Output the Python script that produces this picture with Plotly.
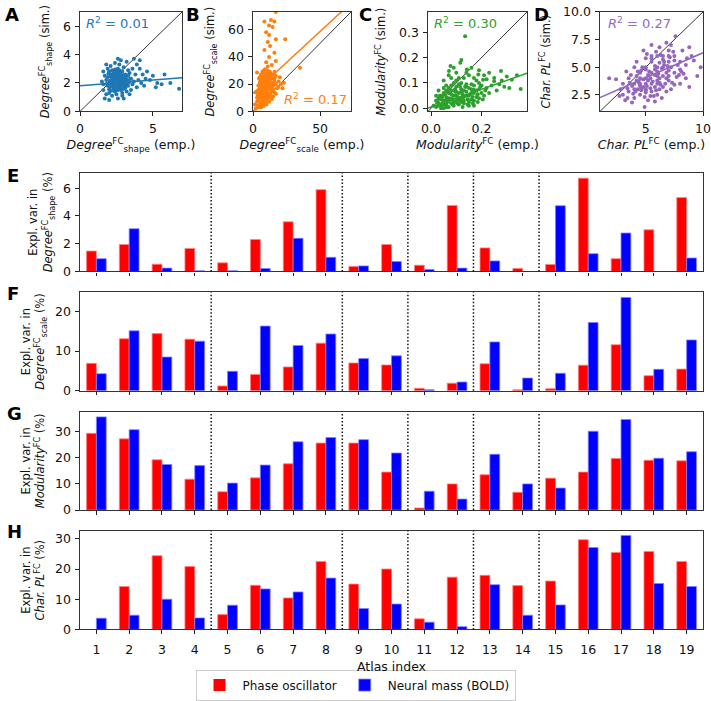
import plotly.graph_objects as go

# ─── Data ────────────────────────────────────────────────────────────
atlas_index = list(range(1, 20))

# explained variance (%) per atlas, phase oscillator vs neural mass
shape_phase = [1.47, 1.94, 0.52, 1.66, 0.62, 2.30, 3.58, 5.90, 0.36, 1.94,
               0.45, 4.76, 1.70, 0.21, 0.50, 6.73, 0.92, 3.00, 5.33]
shape_bold = [0.92, 3.08, 0.24, 0.05, 0.05, 0.21, 2.39, 1.02, 0.40, 0.71,
              0.14, 0.24, 0.76, 0.0, 4.74, 1.28, 2.77, 0.0, 0.97]
scale_phase = [6.9, 13.1, 14.4, 13.0, 1.2, 4.1, 6.0, 12.0, 7.0, 6.5,
               0.6, 1.9, 6.8, 0.25, 0.5, 6.45, 11.6, 3.8, 5.45]
scale_bold = [4.3, 15.1, 8.5, 12.5, 4.9, 16.3, 11.4, 14.3, 8.1, 8.8,
              0.25, 2.2, 12.3, 3.2, 4.4, 17.2, 23.5, 5.4, 12.8]
mod_phase = [29.3, 27.2, 19.2, 11.8, 7.0, 12.3, 17.7, 25.6, 25.6, 14.5,
             0.8, 10.0, 13.5, 6.8, 12.2, 14.5, 19.7, 19.0, 18.8]
mod_bold = [35.6, 30.7, 17.4, 17.0, 10.3, 17.2, 26.1, 27.7, 26.9, 21.8,
            7.2, 4.2, 21.3, 10.0, 8.4, 30.1, 34.6, 19.8, 22.3]
cpl_phase = [0.0, 14.2, 24.4, 20.8, 4.9, 14.6, 10.4, 22.5, 15.0, 20.0,
             3.5, 17.3, 17.9, 14.5, 16.0, 29.7, 25.5, 25.8, 22.5]
cpl_bold = [3.7, 4.7, 10.0, 3.8, 8.0, 13.4, 12.4, 17.0, 6.9, 8.4,
            2.4, 0.9, 14.8, 4.7, 8.1, 27.1, 31.1, 15.2, 14.2]
group_breaks = [4.5, 8.5, 10.5, 12.5, 14.5]

# scatter clouds (emp. vs sim.)
shape_emp = [2.0, 2.2, 2.4, 2.6, 2.8, 3.0, 3.2, 2.5, 2.7, 2.3, 1.8, 1.9, 2.1, 2.9, 3.3, 3.5, 2.6, 2.4, 2.8, 3.1,
             1.7, 1.6, 2.0, 3.6, 3.4, 2.2, 2.7, 3.0, 2.5, 3.2, 2.1, 2.3, 2.5, 2.7, 2.9, 3.1, 2.4, 2.6, 2.8, 2.2,
             1.9, 2.0, 3.3, 3.7, 3.8, 4.0, 4.2, 3.9, 1.5, 1.6, 2.9, 2.6, 2.2, 3.4, 1.8, 2.4, 2.8, 3.2, 2.1, 1.9,
             3.6, 4.3, 4.5, 4.1, 3.5, 1.7, 2.0, 3.0, 2.3, 2.7, 4.8, 5.0, 5.3, 5.6, 4.4, 5.8, 6.2, 6.8, 4.1, 3.9,
             1.6, 3.0, 3.3, 2.5, 2.9, 4.6, 5.2, 3.7, 1.8, 2.6,
             2.05, 2.15, 2.25, 2.35, 2.45, 2.55, 2.65, 2.75, 2.85, 2.95, 3.05, 3.15, 3.25, 2.0, 2.1, 2.2, 2.3, 2.4, 2.5, 2.6,
             2.7, 2.8, 2.9, 3.0, 3.1, 3.2, 3.3, 2.15, 2.35, 2.55, 2.75, 2.95, 3.15, 1.95, 2.45, 2.65, 2.85, 3.35, 1.85, 2.25,
             2.05, 2.5, 2.7, 2.9, 3.05, 2.4, 2.6, 2.8, 2.3, 3.45]
shape_sim = [2.0, 2.3, 1.9, 2.1, 2.4, 2.0, 2.2, 2.6, 1.7, 1.6, 2.2, 1.8, 2.6, 2.8, 1.8, 2.3, 3.0, 1.4, 1.5, 2.6,
             2.5, 1.9, 1.3, 1.9, 2.7, 2.9, 3.3, 3.1, 1.2, 1.4, 2.1, 2.0, 2.3, 2.0, 2.2, 1.9, 2.5, 1.8, 2.7, 1.8,
             2.4, 2.8, 2.5, 2.1, 2.6, 2.2, 2.0, 1.7, 2.1, 1.5, 1.1, 0.9, 1.1, 1.2, 1.2, 3.4, 3.6, 3.5, 3.2, 3.0,
             3.0, 2.6, 2.3, 3.0, 1.5, 0.9, 0.8, 0.9, 2.2, 2.5, 2.2, 2.5, 2.0, 1.9, 1.8, 2.6, 2.0, 1.6, 3.6, 3.3,
             2.8, 1.6, 2.9, 2.8, 1.3, 2.8, 1.7, 3.7, 3.3, 3.7,
             2.15, 1.95, 2.45, 1.75, 2.05, 2.35, 1.65, 2.25, 1.85, 2.55, 2.15, 1.75, 2.05, 1.55, 2.45, 2.05, 2.65, 1.85, 2.15, 2.45,
             1.85, 2.15, 2.45, 2.25, 1.65, 2.55, 2.15, 1.45, 2.75, 1.55, 2.85, 1.75, 2.35, 2.65, 2.2, 2.75, 1.95, 2.05, 1.95, 2.4,
             1.7, 1.6, 2.9, 1.6, 2.4, 2.95, 1.5, 2.0, 2.75, 2.3]

scale_emp = [4, 5, 6, 7, 8, 9, 10, 11, 12, 13, 6, 7, 8, 9, 10, 11, 12, 13, 14, 15,
             5, 6, 7, 8, 9, 10, 11, 12, 13, 14, 3, 4, 3, 4, 5, 5, 6, 7, 9, 11,
             16, 17, 18, 16, 15, 14, 12, 10, 8, 6, 2, 3, 4, 4, 5, 8, 9, 10, 11, 7,
             7, 8, 6, 9, 10, 12, 13, 14, 15, 16, 17, 19, 20, 19, 22, 21, 23, 3, 2, 1.5,
             17, 8.5, 13.4, 15.9, 12, 14.6, 9.8, 12, 17, 11, 24, 12.7, 8.5, 15.9, 12, 17, 9.8, 35, 14, 11,
             5, 6, 7, 8, 9, 10, 11, 12, 13, 14, 5.5, 6.5, 7.5, 8.5, 9.5, 10.5, 11.5, 12.5, 13.5, 14.5,
             6, 7, 8, 9, 10, 11, 12, 13, 6.5, 7.5, 8.5, 9.5, 10.5, 11.5, 12.5, 4.5, 5.5, 15, 16, 17,
             3.5, 4.5, 6, 8, 10, 12, 14, 9, 11, 7]
scale_sim = [8, 12, 15, 10, 18, 14, 20, 16, 22, 18, 22, 25, 27, 24, 28, 25, 26, 24, 21, 19,
             5, 7, 5, 9, 8, 11, 10, 13, 12, 15, 4, 3, 7, 11, 17, 21, 26, 29, 31, 30,
             24, 20, 17, 14, 11, 9, 7, 5, 4, 3, 2, 10, 15, 19, 25, 22, 19, 16, 13, 14,
             19, 12, 11, 11, 23, 19, 28, 26, 27, 29, 26, 22, 25, 18, 17, 20, 21, 28.5, 14, 5,
             73, 66, 67, 66, 63, 62, 58, 56, 53, 51, 53, 48, 45, 43, 40, 37, 36, 32, 34, 33,
             10, 13, 16, 20, 23, 26, 21, 17, 14, 11, 19, 21, 23, 15, 17, 19, 22, 24, 16, 18,
             27, 9, 12, 6, 14, 8, 10, 20, 17, 20, 25, 12, 9, 18, 29, 13, 23, 16, 22, 13,
             12, 24, 19, 30, 8, 28, 24, 27, 25, 7]

mod_emp = [0.02, 0.03, 0.04, 0.05, 0.06, 0.07, 0.08, 0.09, 0.10, 0.11, 0.12, 0.13, 0.14, 0.15, 0.16, 0.17, 0.18, 0.19, 0.20, 0.22,
           0.03, 0.04, 0.05, 0.06, 0.07, 0.08, 0.09, 0.10, 0.11, 0.12, 0.05, 0.07, 0.09, 0.11, 0.13, 0.15, 0.17, 0.19, 0.21, 0.23,
           0.01, 0.02, 0.04, 0.06, 0.08, 0.10, 0.12, 0.14, 0.16, 0.18, 0.06, 0.08, 0.10, 0.05, 0.07, 0.13, 0.15, 0.17, 0.20, 0.24,
           0.26, 0.28, 0.25, 0.22, 0.27, 0.29, 0.21, 0.19, 0.16, 0.14, 0.135, 0.277, 0.32, 0.355, 0.31, 0.25, 0.206, 0.187, 0.142, 0.077,
           0.116, 0.071, 0.168, 0.34, 0.30, 0.23, 0.12, 0.09, 0.03, 0.02, 0.045, 0.065, 0.085, 0.105, 0.125, 0.145, 0.165, 0.185, 0.115, 0.095,
           0.03, 0.05, 0.07, 0.09, 0.11, 0.13, 0.15, 0.17, 0.19, 0.04, 0.06, 0.08, 0.10, 0.12, 0.14, 0.16, 0.18, 0.035, 0.055, 0.075,
           0.095, 0.115, 0.135, 0.155, 0.175, 0.195, 0.215, 0.025, 0.045, 0.065, 0.085, 0.105, 0.125, 0.145, 0.165, 0.185, 0.205, 0.06, 0.1, 0.14,
           0.08, 0.12, 0.16, 0.11, 0.09, 0.13, 0.07, 0.15, 0.05, 0.17]
mod_sim = [0.005, 0.02, 0.01, 0.03, 0.015, 0.04, 0.02, 0.05, 0.03, 0.06, 0.04, 0.07, 0.05, 0.08, 0.06, 0.09, 0.07, 0.10, 0.06, 0.08,
           0.04, 0.05, 0.06, 0.07, 0.08, 0.09, 0.10, 0.11, 0.12, 0.10, 0.0, 0.005, 0.01, 0.015, 0.02, 0.025, 0.03, 0.04, 0.05, 0.06,
           0.01, 0.03, 0.035, 0.045, 0.055, 0.065, 0.075, 0.085, 0.095, 0.11, 0.09, 0.12, 0.14, 0.11, 0.13, 0.12, 0.13, 0.12, 0.09, 0.09,
           0.07, 0.11, 0.12, 0.115, 0.095, 0.085, 0.13, 0.15, 0.16, 0.14, 0.284, 0.147, 0.113, 0.076, 0.08, 0.107, 0.113, 0.133, 0.153, 0.167,
           0.18, 0.147, 0.073, 0.13, 0.125, 0.14, 0.19, 0.16, 0.07, 0.05, 0.02, 0.025, 0.035, 0.045, 0.055, 0.035, 0.045, 0.055, 0.085, 0.075,
           0.01, 0.015, 0.03, 0.02, 0.035, 0.045, 0.05, 0.06, 0.075, 0.0, 0.005, 0.04, 0.05, 0.025, 0.065, 0.075, 0.045, 0.05, 0.055, 0.06,
           0.065, 0.03, 0.085, 0.055, 0.07, 0.085, 0.07, 0.025, 0.045, 0.005, 0.015, 0.02, 0.005, 0.015, 0.02, 0.025, 0.035, 0.035, 0.085, 0.095,
           0.07, 0.065, 0.035, 0.095, 0.025, 0.03, 0.06, 0.01, 0.08, 0.01]

cpl_emp = [5, 5.5, 6, 4.5, 4, 6.5, 7, 3.5, 5, 6, 4.5, 5.5, 6.5, 7, 7.5, 8, 3, 3.5, 4, 5,
           4, 4.5, 5.5, 6, 6.5, 7, 7.5, 8, 8.5, 9, 3, 3.2, 3.8, 4.9, 5.2, 5.8, 6.8, 7.2, 8, 8.5,
           2.4, 1.8, 2.8, 3.3, 4.2, 4.8, 5.5, 6.2, 6.8, 7.6, 7.2, 8.2, 8.8, 9.2, 9.8, 9.5, 8.8, 6, 5, 6,
           4.5, 5, 5.5, 6.2, 6.8, 7.2, 4.2, 3.8, 5.8, 6.5, 4.8, 5.2, 5.8, 6.2, 7, 7.8, 4.3, 3.6, 2.7, 3.4,
           4.6, 5.4, 6.4, 7.5, 8.3, 5.1, 5.9, 6.6, 7.4, 8.6,
           4.4, 4.8, 5.2, 5.6, 6.0, 6.4, 6.8, 4.6, 5.0, 5.4, 5.8, 6.2, 6.6, 7.0, 4.2, 4.6, 5.0, 5.4, 5.8, 6.2,
           3.9, 4.3, 4.7, 5.1, 5.5, 5.9, 6.3, 6.7, 7.1, 7.5, 4.0, 4.5, 5.3, 6.1, 6.9, 7.7, 3.7, 4.9, 5.7, 6.5,
           7.3, 8.1, 3.4, 4.1, 5.0, 6.0, 7.0, 7.9, 5.5, 6.3]
cpl_sim = [4, 4.5, 4.2, 3.5, 3, 5, 5.5, 2.8, 3, 3.5, 4.5, 5.5, 6, 6.5, 6, 5.5, 3.5, 4, 5, 5.8,
           2.2, 2.5, 2.8, 2.5, 3.2, 3.8, 4.5, 4.8, 5.2, 6, 2.5, 2, 1.8, 1.4, 2, 1.9, 2.8, 3, 3.5, 4,
           3.9, 4, 3, 4.6, 5.5, 6.5, 7, 6.8, 7.2, 7.8, 7, 6.5, 6.8, 5.6, 5, 4.2, 3.2, 6, 5, 5,
           4, 4.8, 3.5, 4, 4.5, 5, 3.8, 3.3, 4.8, 4.2, 3.2, 3.8, 3.2, 3, 4.2, 5.2, 4.6, 3.6, 2.4, 2.2,
           2.9, 2.4, 2.2, 3.4, 4.4, 6.2, 6.4, 5.5, 6.4, 5.8,
           3.6, 3.9, 4.3, 3.7, 4.6, 4.9, 4.0, 3.1, 3.5, 4.0, 4.3, 3.6, 5.2, 4.7, 4.2, 4.7, 2.7, 3.1, 5.1, 5.4,
           2.6, 3.0, 5.0, 3.3, 5.8, 2.9, 3.4, 3.5, 5.9, 5.6, 3.5, 3.3, 4.6, 4.4, 5.1, 4.1, 4.3, 2.3, 2.4, 5.7,
           3.6, 4.6, 3.1, 2.8, 2.9, 3.8, 6.0, 4.3, 6.0, 6.1]

# linear fits (intercept, slope) and R² as printed
fit_intercept = [1.8, 13.2, 0.005, 1.8]
fit_slope = [0.08, 0.91, 0.35, 0.45]
r_squared = [0.01, 0.17, 0.30, 0.27]

# ─── Style ───────────────────────────────────────────────────────────
W, H = 711, 701
FONT = "DejaVu Sans"
RED, BLUE = "#ff0000", "#0000ff"
SCATTER_COLORS = ["#1f77b4", "#ff7f0e", "#2ca02c", "#9467bd"]


def xd(a, b):
    return [a / W, b / W]


def yd(top, bottom):
    return [1 - bottom / H, 1 - top / H]


def axis(**kw):
    base = dict(showgrid=False, zeroline=False, showline=True, mirror=True,
                linecolor="#333", linewidth=1.2, ticks="outside", ticklen=3.5,
                tickwidth=1, tickcolor="#222", automargin=False, ticklabelstandoff=2,
                tickfont=dict(family=FONT, size=12.5, color="#111"),
                title_font=dict(family=FONT, size=12.5, color="#111"))
    base.update(kw)
    return base


fig = go.Figure()
layout = {}

# ─── Scatter panels A–D ──────────────────────────────────────────────
scatter_sets = [
    (shape_emp, shape_sim, [0, 7], [0, 5], [0, 2, 4, 6], None,
     "<i>Degree</i><sup>FC</sup><sub>shape</sub>", xd(80, 182)),
    (scale_emp, scale_sim, [0, 73], [0, 50], [0, 20, 40, 60], None,
     "<i>Degree</i><sup>FC</sup><sub>scale</sub>", xd(253, 351)),
    (mod_emp, mod_sim, [-0.012, 0.38], [0, 0.2], [0, 0.1, 0.2, 0.3], ".1f",
     "<i>Modularity</i><sup>FC</sup>", xd(428, 527)),
    (cpl_emp, cpl_sim, [1, 10], [5, 10], [2.5, 5, 7.5, 10], ".1f",
     "<i>Char. PL</i><sup>FC</sup>", xd(600, 703)),
]

for i, (ex, sim, rng, xt, yt, yfmt, name, dom) in enumerate(scatter_sets):
    n = i + 1
    xa, ya = f"x{n}", f"y{n}"
    col = SCATTER_COLORS[i]
    fig.add_trace(go.Scatter(x=rng, y=rng, mode="lines",
                             line=dict(color="black", width=0.8),
                             xaxis=xa, yaxis=ya, showlegend=False, hoverinfo="skip"))
    fig.add_trace(go.Scatter(x=ex, y=sim, mode="markers",
                             marker=dict(color=col, size=4, line_width=0),
                             xaxis=xa, yaxis=ya, showlegend=False))
    fig.add_trace(go.Scatter(x=rng, y=[fit_intercept[i] + fit_slope[i] * v for v in rng],
                             mode="lines", line=dict(color=col, width=1.5),
                             xaxis=xa, yaxis=ya, showlegend=False, hoverinfo="skip"))
    layout[f"xaxis{n}"] = axis(domain=dom, range=rng, tickvals=xt,
                               tickformat=".1f" if i == 2 else None,
                               anchor=ya, title=dict(text=name + " (emp.)", standoff=2))
    layout[f"yaxis{n}"] = axis(domain=yd(12, 112), range=rng, tickvals=yt, tickformat=yfmt,
                               anchor=xa, title=dict(text=name + " (sim.)", standoff=10,
                                                     font=dict(family=FONT, size=11.5, color="#111")))

# ─── Bar panels E–H ──────────────────────────────────────────────────
bar_sets = [
    (shape_phase, shape_bold, [0, 7.1], [0, 2, 4, 6],
     "Expl. var. in<br><i>Degree</i><sup>FC</sup><sub>shape</sub> (%)", yd(174, 273)),
    (scale_phase, scale_bold, [0, 24.8], [0, 10, 20],
     "Expl. var. in<br><i>Degree</i><sup>FC</sup><sub>scale</sub> (%)", yd(294, 393)),
    (mod_phase, mod_bold, [0, 37.6], [0, 10, 20, 30],
     "Expl. var. in<br><i>Modularity</i><sup>FC</sup> (%)", yd(414, 513)),
    (cpl_phase, cpl_bold, [0, 32.6], [0, 10, 20, 30],
     "Expl. var. in<br><i>Char. PL</i><sup>FC</sup> (%)", yd(534, 633)),
]

shapes = []
for j, (ph, bo, yr, yt, title, dom) in enumerate(bar_sets):
    n = j + 5
    xa, ya = f"x{n}", f"y{n}"
    last = j == 3
    fig.add_trace(go.Bar(x=atlas_index, y=ph, name="Phase oscillator",
                         marker=dict(color=RED, line=dict(color="#ff8080",
                                                          width=[0.8 if v > 0 else 0 for v in ph])),
                         xaxis=xa, yaxis=ya, offsetgroup="p", showlegend=last))
    fig.add_trace(go.Bar(x=atlas_index, y=bo, name="Neural mass (BOLD)",
                         marker=dict(color=BLUE, line=dict(color="#8080ff",
                                                           width=[0.8 if v > 0 else 0 for v in bo])),
                         xaxis=xa, yaxis=ya, offsetgroup="b", showlegend=last))
    layout[f"xaxis{n}"] = axis(domain=xd(80, 703), range=[0.5, 19.5], tickvals=atlas_index,
                               showticklabels=last, anchor=ya, ticklabelstandoff=5,
                               title=dict(text="Atlas index" if last else "", standoff=6))
    layout[f"yaxis{n}"] = axis(domain=dom, range=yr, tickvals=yt, anchor=xa,
                               title=dict(text=title, standoff=7,
                                          font=dict(family=FONT, size=11.5, color="#111")))
    for b in group_breaks:
        shapes.append(dict(type="line", xref=xa, yref=f"{ya} domain", x0=b, x1=b, y0=0, y1=1,
                           line=dict(color="#111", width=1.5, dash="1.5px,2px")))

# ─── Annotations ─────────────────────────────────────────────────────
annotations = []
for letter, px, py in [("A", 3, 2), ("B", 184, 2), ("C", 357, 2), ("D", 532, 2),
                       ("E", 5, 164), ("F", 5, 283), ("G", 5, 403), ("H", 5, 522)]:
    annotations.append(dict(text=f"<b>{letter}</b>", x=px / W, y=1 - py / H, xref="paper",
                            yref="paper", xanchor="left", yanchor="top", showarrow=False,
                            font=dict(family=FONT, size=18, color="black")))

r2_pos = [(84, 13, "left", "top"), (349, 110, "right", "bottom"),
          (432, 13, "left", "top"), (606, 13, "left", "top")]
for i, (px, py, xan, yan) in enumerate(r2_pos):
    annotations.append(dict(text=f"<i>R</i><sup>2</sup> = {r_squared[i]:.2f}",
                            x=px / W, y=1 - py / H, xref="paper", yref="paper",
                            xanchor=xan, yanchor=yan, showarrow=False,
                            font=dict(family=FONT, size=13, color=SCATTER_COLORS[i])))

fig.update_layout(
    width=W, height=H, autosize=False,
    margin=dict(l=0, r=0, t=0, b=0),
    paper_bgcolor="white", plot_bgcolor="white",
    font=dict(family=FONT, size=12, color="#111"),
    barmode="group", bargap=0.4, bargroupgap=0,
    shapes=shapes, annotations=annotations,
    legend=dict(orientation="h", x=0.5, xanchor="center", y=1 - 689 / H, yanchor="middle",
                font=dict(family=FONT, size=12, color="#111"),
                bordercolor="#ccc", borderwidth=1, bgcolor="white",
                itemwidth=36, tracegroupgap=0),
    **layout,
)

# page body has a default margin; drop it so the figure sits at the window origin
fig.write_html("out.html", config={"displayModeBar": False},
               post_script="document.body.style.margin='0';document.body.style.overflow='hidden';")
